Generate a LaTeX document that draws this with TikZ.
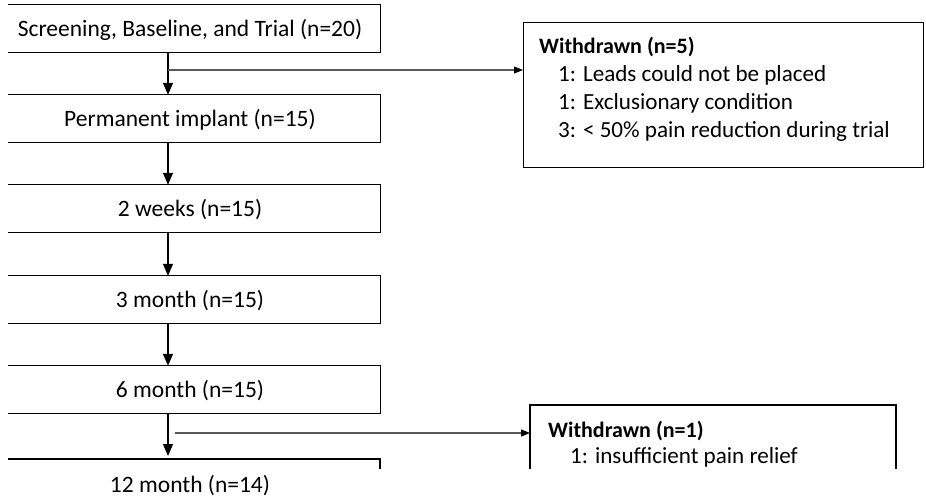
\documentclass[tikz,border=0pt]{standalone}
\usepackage{fontspec}
\setmainfont{Carlito}
\usetikzlibrary{arrows.meta}
\tikzset{
  x=1pt, y=-1pt,
  mainbox/.style={minimum width=380pt, minimum height=47pt, inner sep=0pt, text height=16pt, text depth=0pt, anchor=center},
  boxline/.style={line width=1.3pt, black},
  varr/.style={line width=1.2pt, -{Triangle[length=12pt,width=10pt]}},
  harr/.style={line width=1.1pt, black!65, -{Triangle[length=9pt,width=7pt,black]}},
  wtxt/.style={anchor=base west, inner sep=0pt, font=\fontsize{23.1}{28}\selectfont},
  whead/.style={anchor=base west, inner sep=0pt, font=\fontsize{22}{28}\selectfont\bfseries},
}
\begin{document}
\begin{tikzpicture}
\useasboundingbox (0,0) rectangle (926,499);
\fontsize{23.5}{28}\selectfont
% main column
\node[mainbox] (b1) at (190,28.5) {Screening, Baseline, and Trial (n=20)};
\node[mainbox] (b2) at (190,118.5) {Permanent implant (n=15)};
\node[mainbox] (b3) at (190,208.5) {2 weeks (n=15)};
\node[mainbox] (b4) at (190,299.5) {3 month (n=15)};
\node[mainbox] (b5) at (190,389.5) {6 month (n=15)};
\node[anchor=base, inner sep=0pt] (b6) at (190,492) {12 month (n=14)};
\foreach \b in {b1,b2,b3,b4,b5}{
  \draw[boxline] ([xshift=8pt]\b.south west) -- (\b.south east) -- (\b.north east) -- ([xshift=8pt]\b.north west);
}
\coordinate (b6tl) at (8,459);
\coordinate (b6tr) at (380,459);
\coordinate (b6br) at (380,469);
\draw[boxline] (b6tl) -- (b6tr) -- (b6br);
% vertical arrows
\draw[varr] ([xshift=-22pt]b1.south) -- ([xshift=-22pt]b2.north);
\draw[varr] ([xshift=-22pt]b2.south) -- ([xshift=-22pt]b3.north);
\draw[varr] ([xshift=-22pt]b3.south) -- ([xshift=-22pt]b4.north);
\draw[varr] ([xshift=-22pt]b4.south) -- ([xshift=-22pt]b5.north);
\draw[varr] ([xshift=-22pt]b5.south) -- (168,456);
% withdrawn box 1
\node[draw, line width=1.3pt, minimum width=400pt, minimum height=145pt, inner sep=0pt, anchor=north west] (w1) at (523,22) {};
\node[whead] (w1a) at (539,53) {Withdrawn (n=5)};
\node[wtxt] (w1b) at (558,81) {1: Leads could not be placed};
\node[wtxt] (w1c) at (558,109) {1: Exclusionary condition};
\node[wtxt] (w1d) at (558,137) {3: < 50\% pain reduction during trial};
\coordinate (j1) at (168,70);
\draw[harr] (j1) -- (j1 -| w1.west);
% withdrawn box 2
\coordinate (w2bl) at (530,469);
\coordinate (w2tl) at (530,405);
\coordinate (w2tr) at (896,405);
\coordinate (w2br) at (896,469);
\draw[boxline] (w2bl) -- (w2tl) -- (w2tr) -- (w2br);
\node[whead] (w2a) at (548,437) {Withdrawn (n=1)};
\node[wtxt] (w2b) at (570,463) {1: insufficient pain relief};
\coordinate (j2) at (175,433);
\draw[harr] (j2) -- (j2 -| w2tl);
\end{tikzpicture}
\end{document}
